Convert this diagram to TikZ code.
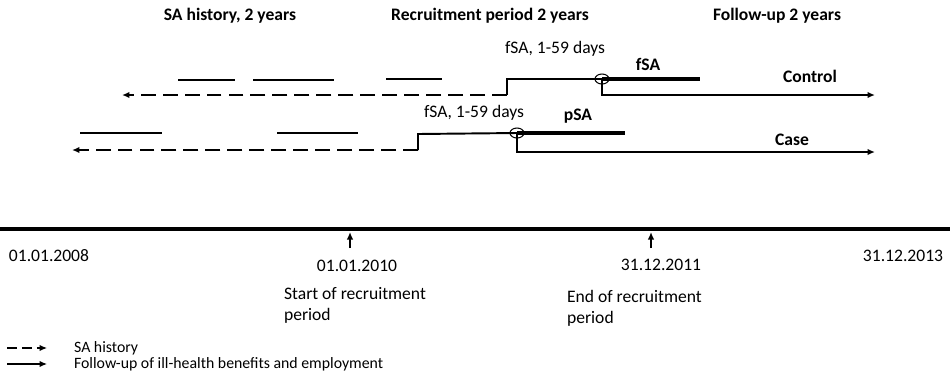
\documentclass[tikz,border=0pt]{standalone}
\usepackage{fontspec}
\setmainfont{Carlito}
\usepackage{tikz}
\usetikzlibrary{calc,positioning,shapes.geometric,arrows.meta}

\tikzset{
  tip/.style={-{Latex[length=0.15cm,width=0.13cm]}},
  hist/.style={tip, line width=1.1pt, dash pattern=on 8.5pt off 4pt},
  follow/.style={tip, line width=1pt},
  spell/.style={line width=1.1pt},
  sick/.style={line width=1.9pt},
  prior/.style={line width=0.9pt},
  event/.style={ellipse, draw, line width=0.6pt, minimum width=0.28cm,
    minimum height=0.2cm, inner sep=0pt},
  title/.style={font=\bfseries\fontsize{10}{12}\selectfont, inner sep=1pt},
  lbl/.style={font=\fontsize{10}{12}\selectfont, inner sep=1pt},
  small/.style={font=\fontsize{9}{11}\selectfont, inner sep=1pt, anchor=west}
}

\begin{document}
\begin{tikzpicture}[x=0.02cm, y=-0.02cm]
    \useasboundingbox (0,0) rectangle (950,380);

    % period headings
    \node[title] (hHist) at (230,16) {SA history, 2 years};
    \node[title] (hRecr) at (490,16) {Recruitment period 2 years};
    \node[title] (hFoll) at (777,16) {Follow-up 2 years};

    % control
    \node[event] (ctlEv) at (602,79) {};
    \coordinate (ctlLow) at (507,95);
    \coordinate (ctlHigh) at (507,79);
    \coordinate (ctlTip) at (122,95);
    \coordinate (ctlSick) at (700,79);
    \coordinate (ctlEnd) at (875,95);
    \draw[hist] (ctlLow) -- (ctlTip);
    \draw[spell] (ctlLow) -- (ctlHigh) -- (ctlEv.center);
    \draw[sick] (ctlEv.center) -- (ctlSick);
    \draw[follow] (ctlEv.center) |- (ctlEnd);
    \draw[prior] (178,80) -- (235,80);
    \draw[prior] (253,80) -- (334,80);
    \draw[prior] (386,79) -- (442,79);
    \node[lbl] (ctlDays) at (555,49) {fSA, 1-59 days};
    \node[title] (ctlType) at (648,64) {fSA};
    \node[title] (ctlName) at (810,76) {Control};

    % case
    \node[event] (casEv) at (517,133) {};
    \coordinate (casLow) at (418,150);
    \coordinate (casHigh) at (418,134);
    \coordinate (casTip) at (72,150);
    \coordinate (casSick) at (625,133);
    \coordinate (casEnd) at (875,152);
    \draw[hist] (casLow) -- (casTip);
    \draw[spell] (casLow) -- (casHigh) -- (casEv.center);
    \draw[sick] (casEv.center) -- (casSick);
    \draw[follow] (casEv.center) |- (casEnd);
    \draw[prior] (80,133) -- (162,133);
    \draw[prior] (277,133) -- (358,133);
    \node[lbl] (casDays) at (474,113) {fSA, 1-59 days};
    \node[title] (casType) at (578,116) {pSA};
    \node[title] (casName) at (792,140) {Case};

    % time axis
    \coordinate (axL) at (0,229);
    \coordinate (axR) at (950,229);
    \draw[line width=1.8pt] (axL) -- (axR);
    \coordinate (startFoot) at (350,248);
    \coordinate (startHead) at (350,232);
    \coordinate (endFoot) at (651,248);
    \coordinate (endHead) at (651,232);
    \draw[follow] (startFoot) -- (startHead);
    \draw[follow] (endFoot) -- (endHead);
    \node[lbl] (d2008) at (49,256) {01.01.2008};
    \node[lbl] (d2010) at (357,266) {01.01.2010};
    \node[lbl] (d2011) at (661,265) {31.12.2011};
    \node[lbl] (d2013) at (903,256) {31.12.2013};
    \node[lbl, anchor=north west, align=left] (startTxt) at (282,285)
      {Start of recruitment\\period};
    \node[lbl, anchor=north west, align=left] (endTxt) at (565,288)
      {End of recruitment\\period};

    % legend
    \coordinate (lgA) at (7,348);
    \coordinate (lgB) at (47,348);
    \coordinate (lgC) at (7,364);
    \coordinate (lgD) at (47,364);
    \draw[tip, line width=0.7pt, dash pattern=on 5.5pt off 3pt] (lgA) -- (lgB);
    \draw[tip, line width=0.7pt] (lgC) -- (lgD);
    \node[small] (lgHist) at (72,348) {SA history};
    \node[small] (lgFoll) at (72,364) {Follow-up of ill-health benefits and employment};
\end{tikzpicture}
\end{document}
